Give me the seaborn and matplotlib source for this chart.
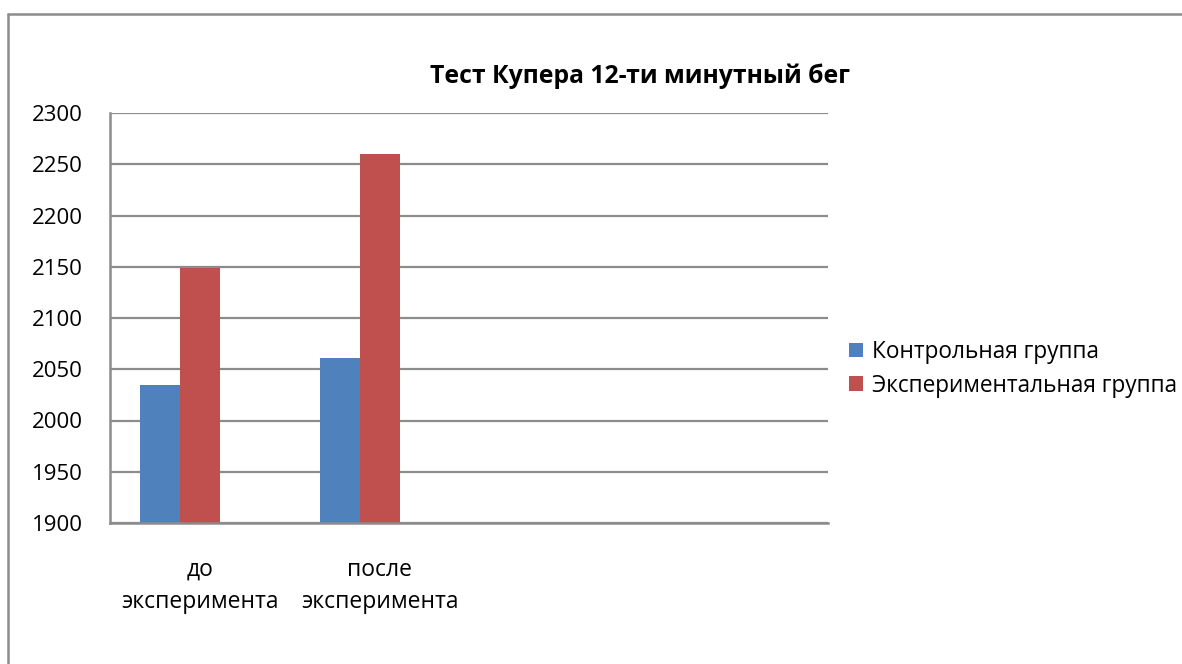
import matplotlib
matplotlib.use("Agg")
import matplotlib.pyplot as plt
from matplotlib.lines import Line2D
import seaborn as sns
import pandas as pd

# ---- data ----
categories = ["до\nэксперимента", "после\nэксперимента", " ", "  "]
series_names = ["Контрольная группа", "Экспериментальная группа"]
empty_series = "_empty"          # third (empty) series slot, as in the source chart
control_values = [2035, 2061]
experimental_values = [2149, 2260]
y_ticks = [1900, 1950, 2000, 2050, 2100, 2150, 2200, 2250, 2300]
title = "Тест Купера 12-ти минутный бег"

rows = []
for c, v in zip(categories, control_values):
    rows.append({"cat": c, "group": series_names[0], "value": v})
for c, v in zip(categories, experimental_values):
    rows.append({"cat": c, "group": series_names[1], "value": v})
df = pd.DataFrame(rows)

sns.set_theme(style="white")
plt.rcParams["font.family"] = ["Open Sans", "DejaVu Sans"]
plt.rcParams["text.color"] = "black"
plt.rcParams["xtick.color"] = "black"
plt.rcParams["ytick.color"] = "black"
plt.rcParams["xtick.labelcolor"] = "black"
plt.rcParams["ytick.labelcolor"] = "black"

W, H = 1182, 664
fig = plt.figure(figsize=(W / 100, H / 100), dpi=100)
fig.patch.set_facecolor("white")

ax = fig.add_axes([110 / W, 1 - 523 / H, (828 - 110) / W, (523 - 113) / H])
palette = {series_names[0]: "#4F81BD", series_names[1]: "#C0504D", empty_series: "#9BBB59"}
sns.barplot(data=df, x="cat", y="value", hue="group", order=categories,
            hue_order=series_names + [empty_series], palette=palette, width=2 / 3,
            dodge=True, saturation=1, ax=ax, edgecolor="none", linewidth=0)

ax.set_ylim(y_ticks[0], y_ticks[-1])
ax.set_xlim(-0.5, 3.49)
ax.set_yticks(y_ticks)
ax.set_yticklabels([str(t) for t in y_ticks], fontsize=16, color="black")
ax.yaxis.grid(True, color="#8c8c8c", linewidth=1.6)
ax.set_axisbelow(True)
ax.tick_params(axis="y", length=0, pad=19.5)
for t in ax.get_xticklabels():
    t.set_fontsize(16.5)
    t.set_linespacing(1.45)
    t.set_color("black")
ax.tick_params(axis="x", length=0, pad=25)
ax.set_xlabel("")
ax.set_ylabel("")
for s in ["top", "right"]:
    ax.spines[s].set_visible(False)
for s in ["left", "bottom"]:
    ax.spines[s].set_color("#8c8c8c")
    ax.spines[s].set_linewidth(1.8)

handles, labels = ax.get_legend_handles_labels()
if ax.get_legend() is not None:
    ax.get_legend().remove()
pairs = [(h, l) for h, l in zip(handles, labels) if l in series_names]
fig.legend([p[0] for p in pairs], [p[1] for p in pairs], loc="upper left",
           bbox_to_anchor=(840 / W, 1 - 331 / H),
           frameon=False, fontsize=16.3, handlelength=0.6, handleheight=0.6,
           handletextpad=0.4, labelspacing=0.42, borderaxespad=0, labelcolor="black")

fig.text(640 / W, 1 - 76 / H, title, ha="center", va="center",
         fontsize=17.8, fontweight="bold", color="black")

# outer chart border (left and top)
fig.add_artist(Line2D([7.5 / W, 7.5 / W], [0, 1 - 13.5 / H], transform=fig.transFigure,
                      color="#8c8c8c", linewidth=1.8))
fig.add_artist(Line2D([7.5 / W, 1], [1 - 13.5 / H, 1 - 13.5 / H], transform=fig.transFigure,
                      color="#8c8c8c", linewidth=1.8))

fig.savefig("out.png", dpi=100, facecolor="white")
